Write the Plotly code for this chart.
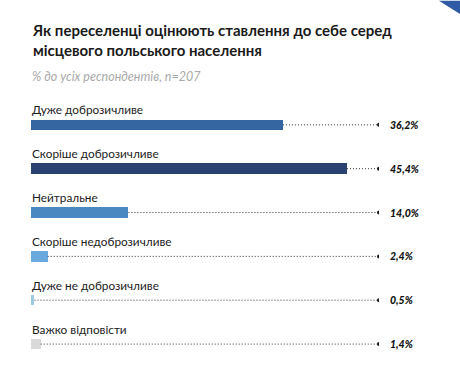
import plotly.graph_objects as go

categories = ["Дуже доброзичливе", "Скоріше доброзичливе", "Нейтральне",
              "Скоріше недоброзичливе", "Дуже не доброзичливе", "Важко відповісти"]
values = [36.2, 45.4, 14.0, 2.4, 0.5, 1.4]
value_labels = ["36,2%", "45,4%", "14,0%", "2,4%", "0,5%", "1,4%"]
colors = ["#3566a2", "#2b416f", "#4a88c1", "#6aa9dd", "#9dcbe4", "#d9d9d9"]
title_text = "Як переселенці оцінюють ставлення до себе серед<br>місцевого польського населення"
subtitle_text = "% до усіх респондентів, n=207"

W, H = 460, 387
ML, MR, MT, MB = 31, 81, 80.5, 20.5
XMAX = 50
plot_w = W - ML - MR
plot_h = H - MT - MB

def px_x(px):
    return (px - ML) / plot_w

def px_y(py):
    return (H - MB - py) / plot_h

ys = list(range(len(categories)))
fig = go.Figure()

# dotted leader lines
for i, v in enumerate(values):
    fig.add_trace(go.Scatter(
        x=[v, XMAX], y=[i, i], mode="lines",
        line=dict(color="#333333", width=1, dash="1px,2px"),
        hoverinfo="skip", showlegend=False))
fig.add_trace(go.Scatter(
    x=[XMAX] * len(values), y=ys, mode="markers",
    marker=dict(color="#1a1a1a", size=4), hoverinfo="skip", showlegend=False))

fig.add_trace(go.Bar(
    x=values, y=ys, orientation="h", width=0.24,
    marker=dict(color=colors, line=dict(width=0)),
    showlegend=False, hoverinfo="skip"))

annotations = []
for i, (c, lab) in enumerate(zip(categories, value_labels)):
    annotations.append(dict(
        x=0, y=i, xref="x", yref="y", text=c, showarrow=False,
        xanchor="left", yanchor="middle", yshift=15, xshift=-1,
        font=dict(family="Lato", size=11.8, color="#222222")))
    annotations.append(dict(
        x=XMAX, y=i, xref="x", yref="y", text=lab,
        showarrow=False, xanchor="left", yanchor="middle", xshift=9,
        font=dict(family="Lato", size=10.5, color="#111111",
                  weight=900, style="italic")))

annotations.append(dict(
    x=0, y=px_y(18), xref="paper", yref="paper", text="<b>" + title_text + "</b>",
    showarrow=False, xanchor="left", yanchor="top", align="left", xshift=-1,
    font=dict(family="Lato", size=15, color="#1a1a1a")))
annotations.append(dict(
    x=0, y=px_y(66), xref="paper", yref="paper", text="<i>" + subtitle_text + "</i>",
    showarrow=False, xanchor="left", yanchor="top", align="left", xshift=-1,
    font=dict(family="Lato", size=12.5, color="#aaaaaa")))

fig.add_shape(type="path", xref="paper", yref="paper",
              path=f"M {px_x(439)} {px_y(0)} L {px_x(461)} {px_y(0)} L {px_x(461)} {px_y(14)} Z",
              fillcolor="#2f5aa6", line=dict(width=0), layer="above")

fig.update_layout(
    width=W, height=H,
    margin=dict(l=ML, r=MR, t=MT, b=MB),
    paper_bgcolor="white", plot_bgcolor="white",
    xaxis=dict(range=[0, XMAX], visible=False, fixedrange=True),
    yaxis=dict(range=[5.5, -1], visible=False, fixedrange=True),
    annotations=annotations,
    bargap=0,
)

fig.write_html("out.html", config=dict(displayModeBar=False),
               post_script="document.body.style.margin='0px';")
